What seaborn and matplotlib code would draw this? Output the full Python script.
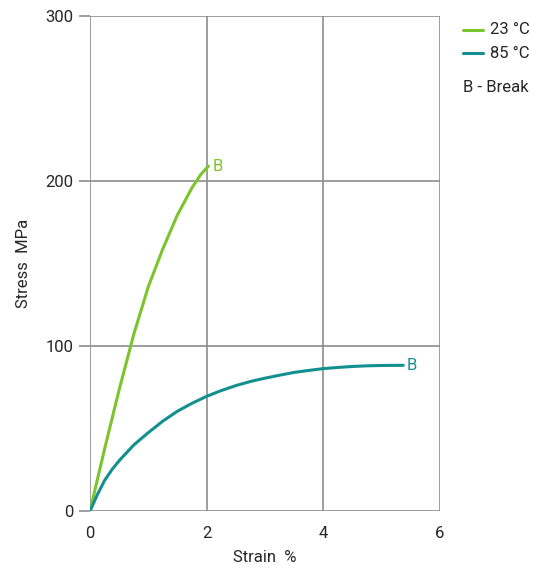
import pandas as pd
import matplotlib
matplotlib.use("Agg")
import matplotlib.pyplot as plt
from matplotlib.lines import Line2D
import seaborn as sns

# Stress-strain curves
strain_23 = [0, 0.25, 0.5, 0.75, 1.0, 1.25, 1.5, 1.75, 1.9, 2.03]
stress_23 = [0, 37.5, 73.5, 107, 136, 159, 179.5, 196, 204, 209]
strain_85 = [0, 0.125, 0.25, 0.375, 0.5, 0.75, 1.0, 1.25, 1.5, 1.75, 2.0, 2.25, 2.5,
             2.75, 3.0, 3.25, 3.5, 3.75, 4.0, 4.25, 4.5, 4.75, 5.0, 5.37]
stress_85 = [0, 9.8, 18.5, 25, 30.5, 40, 47.5, 54.5, 60.5, 65.3, 69.5, 73, 76,
             78.5, 80.5, 82.3, 84, 85.2, 86.3, 87, 87.6, 88, 88.2, 88.3]
series_names = ["23 °C", "85 °C"]
colors = ["#7cc42c", "#11908f"]
x_ticks = [0, 2, 4, 6]
y_ticks = [0, 100, 200, 300]

sns.set_theme(style="white")
plt.rcParams["font.family"] = ["Roboto", "DejaVu Sans"]
FS = 12

df = pd.concat([
    pd.DataFrame({"Strain": strain_23, "Stress": stress_23, "Temp": series_names[0]}),
    pd.DataFrame({"Strain": strain_85, "Stress": stress_85, "Temp": series_names[1]}),
])

fig = plt.figure(figsize=(5.44, 5.70), dpi=100)
ax = fig.add_axes([0.1654, 0.1035, 0.8088 - 0.1654, 0.9719 - 0.1035])

grid_c = "#8c8c8c"
for v in x_ticks:
    ax.axvline(v, color=grid_c, lw=1.2, zorder=0)
for v in y_ticks:
    ax.axhline(v, color=grid_c, lw=1.2, zorder=0)

sns.lineplot(data=df, x="Strain", y="Stress", hue="Temp", palette=colors,
             linewidth=2.2, ax=ax, legend=False, estimator=None, sort=False)

ax.set_xlim(0, 6)
ax.set_ylim(0, 300)
ax.set_xticks(x_ticks)
ax.set_yticks(y_ticks)
ax.tick_params(axis="y", length=8, width=1.2, color=grid_c, labelsize=FS, pad=4, left=True)
ax.tick_params(axis="x", length=0, labelsize=FS, pad=11)
for s in ax.spines.values():
    s.set_visible(False)
ax.set_xlabel("Strain  %", fontsize=FS, labelpad=6)
ax.set_ylabel("Stress  MPa", fontsize=FS, labelpad=10)

# Break markers
ax.text(strain_23[-1] + 0.07, stress_23[-1], "B", color=colors[0], fontsize=FS, va="center", ha="left")
ax.text(strain_85[-1] + 0.05, stress_85[-1], "B", color=colors[1], fontsize=FS, va="center", ha="left")

# Legend
W, H = 544, 570
for name, c, ypx in zip(series_names, colors, [30, 53]):
    fig.add_artist(Line2D([463 / W, 483 / W], [1 - ypx / H] * 2, color=c, lw=2.2,
                          transform=fig.transFigure))
    fig.text(490 / W, 1 - ypx / H, name, fontsize=FS, va="center", ha="left")
fig.text(463 / W, 1 - 88 / H, "B - Break", fontsize=FS, va="center", ha="left")

fig.savefig("out.png", dpi=100)
